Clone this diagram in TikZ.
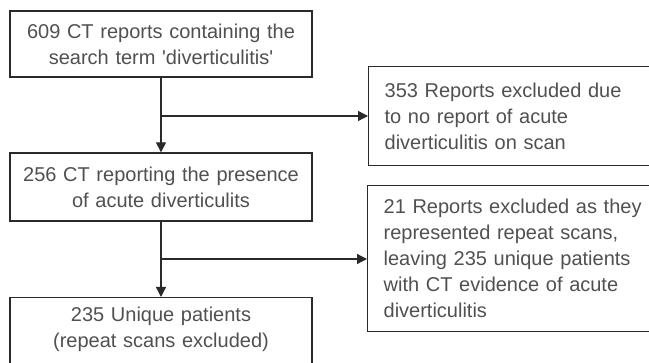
\documentclass[tikz,border=0pt]{standalone}
\usepackage{fontspec}
\setmainfont{Liberation Sans}
\usetikzlibrary{arrows.meta}
\definecolor{txtgray}{HTML}{505050}
\definecolor{linegray}{HTML}{2A2A2A}
\begin{document}
\begin{tikzpicture}[x=1pt,y=-1pt,
  every node/.style={font={\fontsize{20}{26}\selectfont}, text=txtgray},
  mainbox/.style={draw=linegray, line width=1.3pt, minimum width=302pt, text width=296pt, align=center, inner sep=0pt},
  sidebox/.style={draw=linegray, line width=1.3pt, anchor=north west, text width=290pt, align=left, inner xsep=16pt, inner ysep=0pt},
  arr/.style={draw=linegray, line width=1.3pt, -{Triangle[length=10pt,width=10pt]}}]
\useasboundingbox (0,0) rectangle (649,363);
\clip (0,0) rectangle (649,363);
\node[mainbox, minimum height=66pt] (b1) at (161,44) {609 CT reports containing the\\search term \textquotesingle diverticulitis\textquotesingle};
\node[mainbox, minimum height=68pt] (b2) at (161,187) {256 CT reporting the presence\\of acute diverticulits};
\node[mainbox, anchor=north, inner ysep=9pt] (b3) at (161,297) {235 Unique patients\\(repeat scans excluded)\rule[-40pt]{0pt}{1pt}};
\node[sidebox, minimum height=99pt] (r1) at (368,66) {353 Reports excluded due\\to no report of acute\\diverticulitis on scan};
\node[sidebox, minimum height=146pt] (r2) at (367,185) {21 Reports excluded as they\\represented repeat scans,\\leaving 235 unique patients\\with CT evidence of acute\\diverticulitis};
\coordinate (j1) at (161,116);
\coordinate (j2) at (161,259);
\draw[arr] (b1) -- (b2);
\draw[arr] (j1) -- (r1.west |- j1);
\draw[arr] (b2) -- (b3);
\draw[arr] (j2) -- (r2.west |- j2);
\end{tikzpicture}
\end{document}
